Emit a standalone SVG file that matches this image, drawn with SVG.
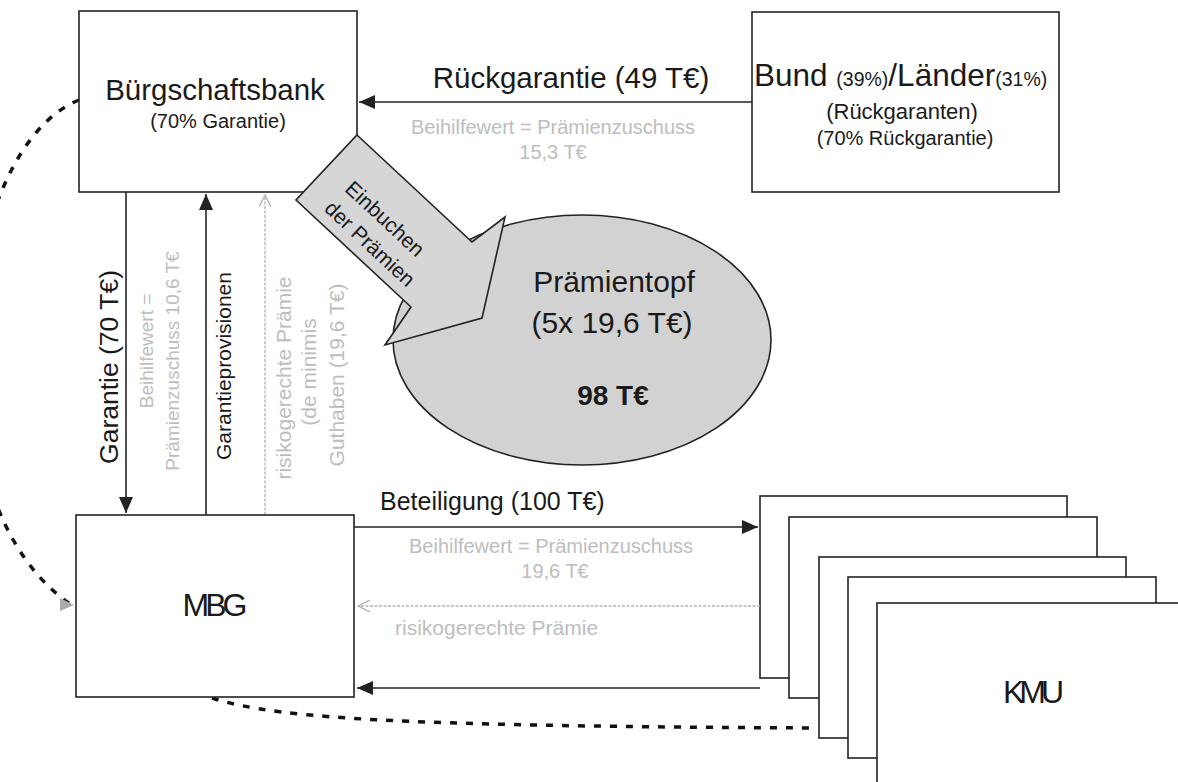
<svg xmlns="http://www.w3.org/2000/svg" width="1178" height="782" viewBox="0 0 1178 782">
<style>
text{font-family:"Liberation Sans",Arial,sans-serif;fill:#1a1a1a}
.box{fill:#fff;stroke:#222;stroke-width:1.6}
.ln{stroke:#222;stroke-width:1.6;fill:none}
.gl{stroke:#b5b5b5;stroke-width:1.4;fill:none;stroke-dasharray:3 1.5}
.g{fill:#bdbdbd}
.dash{stroke:#111;stroke-width:3.5;fill:none;stroke-dasharray:7 9}
.m{text-anchor:middle}
</style>
<defs>
<marker id="ah" markerUnits="userSpaceOnUse" markerWidth="18" markerHeight="14" refX="16" refY="7" orient="auto">
<path d="M0,0 L16,7 L0,14 Z" fill="#222"/>
</marker>
<marker id="ag" markerUnits="userSpaceOnUse" markerWidth="14" markerHeight="12" refX="12" refY="6" orient="auto">
<path d="M0,0 L12,6 L0,12" fill="none" stroke="#b5b5b5" stroke-width="1.4"/>
</marker>
</defs>

<g id="kmu">
<rect class="box" x="760" y="496" width="307" height="182"/>
<rect class="box" x="789" y="517" width="308" height="181"/>
<rect class="box" x="819" y="557" width="307" height="181"/>
<rect class="box" x="848" y="577" width="308" height="181"/>
<rect class="box" x="877" y="603" width="320" height="200"/>
<text x="1031" y="703" class="m" font-size="32" letter-spacing="-5">KMU</text>
</g>

<g id="connectors">
<path class="dash" d="M79,100 C-45,150 -80,500 70,604"/>
<path d="M60,598 L74,605 L60,611" fill="#aaa"/>
<path class="dash" d="M212,698 C280,720 420,726 818,728"/>
<path class="ln" d="M752,102 L359,102" marker-end="url(#ah)"/>
<path class="ln" d="M126,192 L126,513" marker-end="url(#ah)"/>
<path class="ln" d="M206,515 L206,194" marker-end="url(#ah)"/>
<path class="ln" d="M354,527 L758,527" marker-end="url(#ah)"/>
<path class="ln" d="M760,688 L357,688" marker-end="url(#ah)"/>
<path class="gl" d="M265,515 L265,195" marker-end="url(#ag)"/>
<path class="gl" d="M760,606 L358,606" marker-end="url(#ag)"/>
</g>

<g id="labels">
<text x="571" y="88" class="m" font-size="29.5">Rückgarantie (49 T€)</text>
<text x="553" y="134" class="m g" font-size="20">Beihilfewert = Prämienzuschuss</text>
<text x="553" y="159" class="m g" font-size="20">15,3 T€</text>
<text transform="translate(118,367) rotate(-90)" class="m" font-size="26.5">Garantie (70 T€)</text>
<text transform="translate(153,351) rotate(-90)" class="m g" font-size="19">Beihilfewert =</text>
<text transform="translate(179,361) rotate(-90)" class="m g" font-size="19">Prämienzuschuss 10,6 T€</text>
<text transform="translate(231,366) rotate(-90)" class="m" font-size="21">Garantieprovisionen</text>
<text transform="translate(291,378) rotate(-90)" class="m g" font-size="21">risikogerechte Prämie</text>
<text transform="translate(316,372) rotate(-90)" class="m g" font-size="21">(de minimis</text>
<text transform="translate(344,375) rotate(-90)" class="m g" font-size="21">Guthaben (19,6 T€)</text>
<text x="380" y="510" font-size="25">Beteiligung (100 T€)</text>
<text x="551" y="553" class="m g" font-size="20">Beihilfewert = Prämienzuschuss</text>
<text x="555" y="578" class="m g" font-size="20">19,6 T€</text>
<text x="395" y="635" class="g" font-size="21">risikogerechte Prämie</text>
</g>

<g id="buergschaftsbank">
<rect class="box" x="79" y="11" width="278" height="181"/>
<text x="215" y="100" class="m" font-size="29.5">Bürgschaftsbank</text>
<text x="218" y="128" class="m" font-size="20">(70% Garantie)</text>
</g>

<g id="bund">
<rect class="box" x="752" y="12" width="307" height="180"/>
<text x="754" y="86" font-size="31.5">Bund <tspan font-size="19.5">(39%)</tspan>/Länder<tspan font-size="19.5">(31%)</tspan></text>
<text x="902" y="119" class="m" font-size="22">(Rückgaranten)</text>
<text x="905" y="145" class="m" font-size="20">(70% Rückgarantie)</text>
</g>

<g id="mbg">
<rect class="box" x="76" y="515" width="278" height="182"/>
<text x="213" y="616" class="m" font-size="32" letter-spacing="-4">MBG</text>
</g>

<g id="praemientopf">
<ellipse cx="582" cy="340" rx="189" ry="125" fill="#d2d2d2" stroke="#222" stroke-width="1.6"/>
<text x="614" y="292" class="m" font-size="30">Prämientopf</text>
<text x="612" y="333" class="m" font-size="30">(5x 19,6 T€)</text>
<text x="613" y="405" class="m" font-size="28" font-weight="bold">98 T€</text>
</g>

<g id="einbuchen">
<polygon points="357,135 472,242 505,217 482,318 385,345 411,307 296,200" fill="#d6d6d6" stroke="#222" stroke-width="1.6"/>
<text transform="translate(380,224) rotate(43)" class="m" font-size="21">Einbuchen</text>
<text transform="translate(365,249) rotate(43)" class="m" font-size="21">der Prämien</text>
</g>
</svg>
